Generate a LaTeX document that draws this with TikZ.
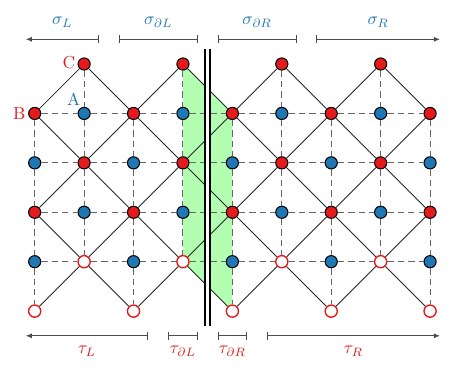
\documentclass[tikz,border=0pt]{standalone}
\usepackage{amsmath}
\usepackage{amssymb}
\usepackage{tikz}
\usetikzlibrary{arrows.meta,positioning,calc}

\definecolor{sitered}{HTML}{E41A1C}
\definecolor{siteblue}{HTML}{1F77B4}

\begin{document}
\begin{tikzpicture}[line width=0.5pt,
                redsite/.style={circle, draw=black, fill=sitered, minimum size=7pt, inner sep=0pt, line width=0.6pt},
                bluesite/.style={circle, draw=black, fill=siteblue, minimum size=7pt, inner sep=0pt, line width=0.6pt},
                opensite/.style={circle, draw=sitered, fill=white, minimum size=7pt, inner sep=0pt, line width=0.8pt},
                bond/.style={black!85, line width=0.5pt},
                link/.style={black!60, dash pattern=on 3.6pt off 2.4pt, line width=0.6pt},
                span/.style={black!70, line width=0.6pt},
                wall/.style={line width=1.1pt, double=white, double distance=1.7pt}
            ]

\useasboundingbox (-0.702,-6.374) rectangle (8.545,1.295);

% --- shaded strip next to the wall ---
                \fill[green!30] (3,0) -- (4,-1) -- (4,-5) -- (3,-4) -- cycle;

% --- sites (red where c+r is odd, blue otherwise) ---
                \foreach \c in {0,...,8} {
                  \foreach \r in {0,...,5} {
                    \pgfmathtruncatemacro{\pty}{mod(\c+\r,2)}
                    \ifnum\pty=1
                      \ifnum\r<4 \node[redsite] (s-\c-\r) at (\c,-\r) {};
                      \else \node[opensite] (s-\c-\r) at (\c,-\r) {}; \fi
                    \else
                      \ifnum\r>0 \ifnum\r<5 \node[bluesite] (s-\c-\r) at (\c,-\r) {}; \fi\fi
                    \fi
                  }
                }

% --- dashed links ---
                \foreach \r in {1,...,4} {
                  \foreach \c [evaluate=\c as \d using int(\c+1)] in {0,...,7}
                    \draw[link] (s-\c-\r) -- (s-\d-\r);
                }
                \foreach \c in {0,...,8} {
                  \foreach \r [evaluate=\r as \q using int(\r+1)] in {1,...,3}
                    \draw[link] (s-\c-\r) -- (s-\c-\q);
                }
                \foreach \c in {1,3,5,7} \draw[link] (s-\c-0) -- (s-\c-1);
                \foreach \c in {0,2,4,6,8} \draw[link] (s-\c-4) -- (s-\c-5);

% --- diagonal bonds between red sites ---
                \foreach \c [evaluate=\c as \d using int(\c+1)] in {0,...,7} {
                  \foreach \r [evaluate=\r as \q using int(\r+1)] in {0,...,4} {
                    \pgfmathtruncatemacro{\pty}{mod(\c+\r,2)}
                    \ifnum\pty=1 \draw[bond] (s-\c-\r) -- (s-\d-\q);
                    \else \draw[bond] (s-\d-\r) -- (s-\c-\q); \fi
                  }
                }

% --- wall ---
                \draw[wall] (3.5,0.3) -- (3.5,-5.3);

% --- site labels ---
                \node[text=sitered, inner sep=0pt] (labB) at ($(s-0-1)+(-0.31,0)$) {B};
                \node[text=sitered, inner sep=0pt] (labC) at ($(s-1-0)+(-0.31,0.03)$) {C};
                \node[text=siteblue, inner sep=0pt] (labA) at ($(s-1-1)+(-0.21,0.29)$) {A};

% --- top spans ---
                \draw[span, {Latex[length=3.5pt,width=3pt]}-{Bar[width=4.5pt]}] (-0.18,0.5) -- (1.3,0.5);
                \draw[span, {Bar[width=4.5pt]}-{Bar[width=4.5pt]}] (1.7,0.5) -- (3.3,0.5);
                \draw[span, {Bar[width=4.5pt]}-{Bar[width=4.5pt]}] (3.7,0.5) -- (5.3,0.5);
                \draw[span, {Bar[width=4.5pt]}-{Latex[length=3.5pt,width=3pt]}] (5.7,0.5) -- (8.2,0.5);

                \node[text=siteblue, anchor=base] (sigL)  at (0.56,0.79) {$\sigma_L$};
                \node[text=siteblue, anchor=base] (sigdL) at (2.5,0.79)  {$\sigma_{\partial L}$};
                \node[text=siteblue, anchor=base] (sigdR) at (4.5,0.79)  {$\sigma_{\partial R}$};
                \node[text=siteblue, anchor=base] (sigR)  at (6.95,0.79) {$\sigma_R$};

% --- bottom spans ---
                \draw[span, {Latex[length=3.5pt,width=3pt]}-{Bar[width=4.5pt]}] (-0.18,-5.5) -- (2.3,-5.5);
                \draw[span, {Bar[width=4.5pt]}-{Bar[width=4.5pt]}] (2.7,-5.5) -- (3.3,-5.5);
                \draw[span, {Bar[width=4.5pt]}-{Bar[width=4.5pt]}] (3.7,-5.5) -- (4.3,-5.5);
                \draw[span, {Bar[width=4.5pt]}-{Latex[length=3.5pt,width=3pt]}] (4.7,-5.5) -- (8.2,-5.5);

                \node[text=sitered, anchor=base] (tauL)  at (1.06,-5.86) {$\tau_L$};
                \node[text=sitered, anchor=base] (taudL) at (3.0,-5.86)  {$\tau_{\partial L}$};
                \node[text=sitered, anchor=base] (taudR) at (4.0,-5.86)  {$\tau_{\partial R}$};
                \node[text=sitered, anchor=base] (tauR)  at (6.45,-5.86) {$\tau_R$};

            \end{tikzpicture}
\end{document}
